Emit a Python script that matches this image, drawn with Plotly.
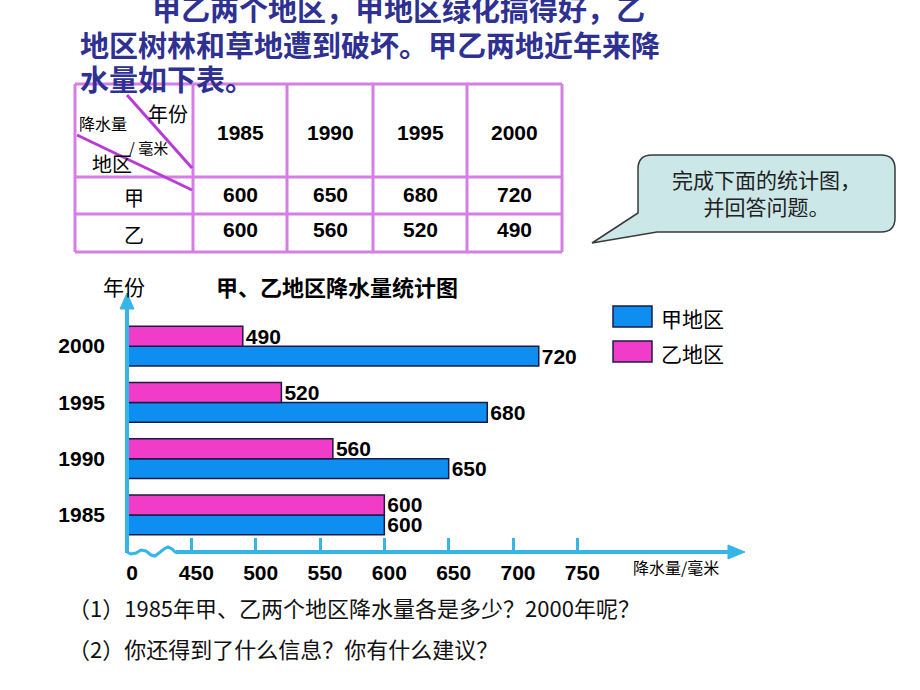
import plotly.graph_objects as go

W, H = 920, 690

# ---------------- data ----------------
years = ["1985", "1990", "1995", "2000"]
jia_rain = [600, 650, 680, 720]     # 甲地区
yi_rain = [600, 560, 520, 490]      # 乙地区
series_names = ["甲地区", "乙地区"]
x_tick_vals = [400, 450, 500, 550, 600, 650, 700, 750]
x_tick_text = ["0", "450", "500", "550", "600", "650", "700", "750"]
axis_origin = 400   # broken axis: origin drawn as "0"

table_years = ["1985", "1990", "1995", "2000"]
table_rows = ["甲", "乙"]

title_lines = ["甲乙两个地区，甲地区绿化搞得好，乙",
               "地区树林和草地遭到破坏。甲乙两地近年来降",
               "水量如下表。"]
callout_lines = ["完成下面的统计图，", "并回答问题。"]
questions = ["（1）1985年甲、乙两个地区降水量各是多少？2000年呢？",
             "（2）你还得到了什么信息？你有什么建议？"]

# ---------------- styles ----------------
BLUE = "#0d8ef0"
PINK = "#f03cc8"
AX = "#36b6e6"
TABLE = "#d67ee6"
DIAG = "#b83ad8"
NAVY = "#2f3192"
CJK = "Noto Sans CJK SC"
NUM = "Liberation Sans, Arial"


def fx(x):
    return x / W


def fy(y):
    return 1 - y / H


def path(points, close=True):
    s = "M " + " L ".join(f"{fx(x):.5f},{fy(y):.5f}" for x, y in points)
    return s + (" Z" if close else "")


def txt(x, y, t, size, family=CJK, color="black", bold=False, xanchor="center"):
    return dict(xref="paper", yref="paper", x=fx(x), y=fy(y), text=t, showarrow=False,
                xanchor=xanchor, yanchor="middle",
                font=dict(family=family, size=size, color=color, weight="bold" if bold else "normal"))


fig = go.Figure()
for name, vals, col in [(series_names[0], jia_rain, BLUE), (series_names[1], yi_rain, PINK)]:
    fig.add_trace(go.Bar(
        y=years, x=[v - axis_origin for v in vals], base=axis_origin,
        orientation="h", name=name,
        marker=dict(color=col, line=dict(color="#1b1b45", width=1.5)),
        text=[str(v) for v in vals], textposition="outside",
        textfont=dict(family=NUM, size=21, color="black", weight="bold"),
        constraintext="none", cliponaxis=False, showlegend=False,
    ))

shapes = []
annotations = []

# ---- axis lines and arrows ----
shapes.append(dict(type="line", xref="paper", yref="paper", x0=fx(127), y0=fy(553), x1=fx(127), y1=fy(306),
                   line=dict(color=AX, width=4)))
shapes.append(dict(type="path", xref="paper", yref="paper",
                   path=path([(127, 293), (120, 309), (134, 309)]), fillcolor=AX, line=dict(color=AX, width=1)))
shapes.append(dict(type="line", xref="paper", yref="paper", x0=fx(176), y0=fy(552), x1=fx(730), y1=fy(552),
                   line=dict(color=AX, width=4)))
shapes.append(dict(type="path", xref="paper", yref="paper",
                   path=path([(745, 552), (728, 545), (728, 559)]), fillcolor=AX, line=dict(color=AX, width=1)))
# squiggle (axis break)
sq = [(127, 552), (131, 554), (136, 553), (141, 550), (146, 551), (151, 555), (155, 556), (159, 553),
      (164, 549), (168, 547), (172, 549), (175, 552), (178, 553)]
shapes.append(dict(type="path", xref="paper", yref="paper", path=path(sq, close=False),
                   line=dict(color=AX, width=3)))

# ---- legend (custom) ----
for i, (name, col) in enumerate([(series_names[0], BLUE), (series_names[1], PINK)]):
    y0 = 306 + i * 35
    shapes.append(dict(type="rect", xref="paper", yref="paper", x0=fx(613), x1=fx(652), y0=fy(y0), y1=fy(y0 + 21),
                       fillcolor=col, line=dict(color="#1b1b45", width=1.5)))
    annotations.append(txt(659, y0 + 12, name, 21, xanchor="left"))

# ---- chart titles ----
annotations.append(txt(124, 286, "年份", 21))
annotations.append(txt(337, 286, "甲、乙地区降水量统计图", 22, bold=True))
annotations.append(txt(676, 567, "降水量/毫米", 16))

# ---- heading text ----
starts = [(150, 8), (78, 44), (78, 78)]
for (x, y), t in zip(starts, title_lines):
    annotations.append(txt(x, y, t, 29, color=NAVY, bold=True, xanchor="left"))

# ---- table ----
cols_x = [75, 193, 287, 373, 467, 562]
rows_y = [84, 177, 214, 252]
for x in cols_x:
    shapes.append(dict(type="line", xref="paper", yref="paper", x0=fx(x), x1=fx(x), y0=fy(rows_y[0]),
                       y1=fy(rows_y[-1]), line=dict(color=TABLE, width=3)))
for y in rows_y:
    shapes.append(dict(type="line", xref="paper", yref="paper", x0=fx(cols_x[0]), x1=fx(cols_x[-1]), y0=fy(y),
                       y1=fy(y), line=dict(color=TABLE, width=3)))
shapes.append(dict(type="line", xref="paper", yref="paper", x0=fx(127), y0=fy(95), x1=fx(192), y1=fy(168),
                   line=dict(color=DIAG, width=3)))
shapes.append(dict(type="line", xref="paper", yref="paper", x0=fx(77), y0=fy(135), x1=fx(192), y1=fy(190),
                   line=dict(color=DIAG, width=3)))
hdr = [("年份", 168, 113, 20), ("降水量", 103, 123, 16), ("/ 毫米", 148, 147, 15), ("地区", 112, 163, 20)]
for t, x, y, s in hdr:
    annotations.append(txt(x, y, t, s))
for i, yr in enumerate(table_years):
    cx = (cols_x[i + 1] + cols_x[i + 2]) / 2
    annotations.append(txt(cx, 132, yr, 21, family=NUM, bold=True))
    for j, vals in enumerate([jia_rain, yi_rain]):
        cy = [194, 229][j]
        annotations.append(txt(cx, cy, str(vals[i]), 21, family=NUM, bold=True))
for j, r in enumerate(table_rows):
    annotations.append(txt(134, [197, 234][j], r, 20))

# ---- callout ----
r = 14
co = "M {a} L {b} Q {c} {d} L {e} Q {f} {g} L {h} L {i} L {j} L {k} Q {l} {m} Z".format(
    a=f"{fx(638 + r)},{fy(155)}", b=f"{fx(895 - r)},{fy(155)}", c=f"{fx(895)},{fy(155)}",
    d=f"{fx(895)},{fy(155 + r)}", e=f"{fx(895)},{fy(232 - r)}", f=f"{fx(895)},{fy(232)}",
    g=f"{fx(895 - r)},{fy(232)}", h=f"{fx(657)},{fy(232)}", i=f"{fx(592)},{fy(243)}",
    j=f"{fx(638)},{fy(213)}", k=f"{fx(638)},{fy(155 + r)}", l=f"{fx(638)},{fy(155)}",
    m=f"{fx(638 + r)},{fy(155)}")
shapes.append(dict(type="path", xref="paper", yref="paper", path=co, fillcolor="#cbe7e7",
                   line=dict(color="#3a3a3a", width=1.5)))
annotations.append(dict(xref="paper", yref="paper", x=fx(766), y=fy(193),
                        text="<br>".join(callout_lines), showarrow=False,
                        xanchor="center", yanchor="middle", align="center",
                        font=dict(family=CJK, size=21, color="#222222", lineposition="none")))

# ---- questions ----
for t, y in zip(questions, [607, 648]):
    annotations.append(txt(66, y, t, 22, color="#111111", xanchor="left"))

x_right = axis_origin + (742 - 127) / 1.2867
fig.update_layout(
    width=W, height=H, margin=dict(l=0, r=0, t=0, b=0),
    paper_bgcolor="white", plot_bgcolor="white",
    barmode="group", bargap=0.289, bargroupgap=0,
    xaxis=dict(domain=[fx(127), fx(742)], range=[axis_origin, x_right], showgrid=False, zeroline=False,
               showline=False, tickmode="array", tickvals=x_tick_vals, ticktext=x_tick_text,
               ticks="inside", ticklen=14, tickwidth=3, tickcolor=AX, ticklabelshift=5,
               ticklabelstandoff=6,
               tickfont=dict(family=NUM, size=21, color="black", weight="bold")),
    yaxis=dict(domain=[fy(552), fy(318)], range=[-0.66, 3.5], type="category",
               categoryorder="array", categoryarray=years, showgrid=False, zeroline=False,
               showline=False, ticks="", ticklabelstandoff=21,
               tickfont=dict(family=NUM, size=21, color="black", weight="bold")),
    shapes=shapes, annotations=annotations, showlegend=False,
)
fig.write_html("out.html")
